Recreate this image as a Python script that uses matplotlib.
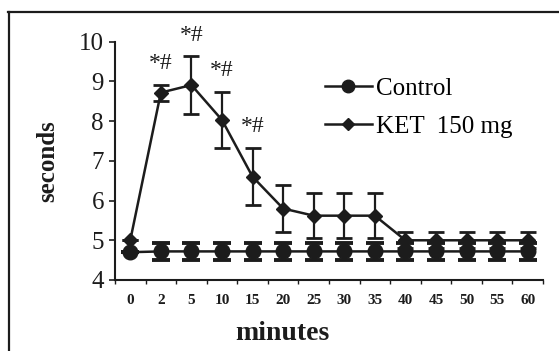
import matplotlib.pyplot as plt
import numpy as np
from matplotlib.lines import Line2D

plt.rcParams['font.family'] = ['Liberation Serif', 'DejaVu Serif']

minutes = ['0', '2', '5', '10', '15', '20', '25', '30', '35', '40', '45', '50', '55', '60']
control = [4.70, 4.72, 4.72, 4.72, 4.72, 4.72, 4.72, 4.72, 4.72, 4.72, 4.72, 4.72, 4.72, 4.72]
control_err = [0, 0.22, 0.22, 0.22, 0.22, 0.22, 0.22, 0.22, 0.22, 0.22, 0.22, 0.22, 0.22, 0.22]
ket = [5.00, 8.72, 8.91, 8.03, 6.60, 5.80, 5.62, 5.62, 5.62, 5.00, 5.00, 5.00, 5.00, 5.00]
ket_err = [0, 0.20, 0.72, 0.71, 0.72, 0.58, 0.57, 0.57, 0.57, 0.20, 0.20, 0.20, 0.20, 0.20]
signif = ['', '*#', '*#', '*#', '*#', '', '', '', '', '', '', '', '', '']

ink = '#1c1c1c'
x = np.arange(len(minutes))

fig = plt.figure(figsize=(5.59, 3.51), dpi=100)
ax = fig.add_axes([0.2057, 0.2023, 0.7657, 0.6787])

ax.errorbar(x, ket, yerr=ket_err, fmt='-', color=ink, lw=1.8, marker='D',
            ms=7, capsize=6, capthick=2, elinewidth=1.6, zorder=3)
ax.errorbar(x, control, yerr=control_err, fmt='-', color=ink, lw=1.8, marker='o',
            ms=10.5, capsize=6.5, capthick=2.8, elinewidth=1.8, zorder=4)

for xi, yi, e, s in zip(x, ket, ket_err, signif):
    if s:
        ax.text(xi, yi + e + 0.27, s, ha='center', va='bottom', fontsize=17,
                color=ink)

ax.set_xlim(-0.5, len(minutes) - 0.5)
ax.set_ylim(4, 10)
ax.set_xticks(x)
ax.set_xticklabels(minutes, fontsize=11, fontweight='bold')
ax.set_xticks(np.arange(len(minutes) + 1) - 0.5, minor=True)
ax.tick_params(axis='x', which='major', length=0, pad=10, colors=ink)
ax.tick_params(axis='x', which='minor', length=3, width=1, direction='out', color=ink)
ax.set_yticks(range(4, 11))
ax.tick_params(axis='y', length=4, width=1.2, labelsize=18, pad=4, colors=ink)

for side in ['top', 'right']:
    ax.spines[side].set_visible(False)
for side in ['left', 'bottom']:
    ax.spines[side].set_linewidth(1.5)
    ax.spines[side].set_color(ink)

ax.set_ylabel('seconds', fontsize=18, fontweight='bold', color=ink, labelpad=14)
fig.text(282 / 559, 1 - 333 / 351, 'minutes', ha='center', va='center',
         fontsize=20, fontweight='bold', color=ink)

handles = [Line2D([], [], color=ink, lw=1.8, marker='o', ms=9),
           Line2D([], [], color=ink, lw=1.8, marker='D', ms=6)]
ax.legend(handles, ['Control', 'KET  150 mg'], loc='upper left',
          bbox_to_anchor=(0.49, 0.85), frameon=False, fontsize=18,
          handlelength=1.9, handletextpad=0.15, labelspacing=0.6,
          borderpad=0, borderaxespad=0)

# page frame
fig.add_artist(Line2D([8 / 559, 1], [1 - 12 / 351, 1 - 12 / 351], color=ink, lw=1.6))
fig.add_artist(Line2D([9 / 559, 9 / 559], [0, 1 - 12 / 351], color=ink, lw=1.6))

fig.savefig('out.png', dpi=100)
